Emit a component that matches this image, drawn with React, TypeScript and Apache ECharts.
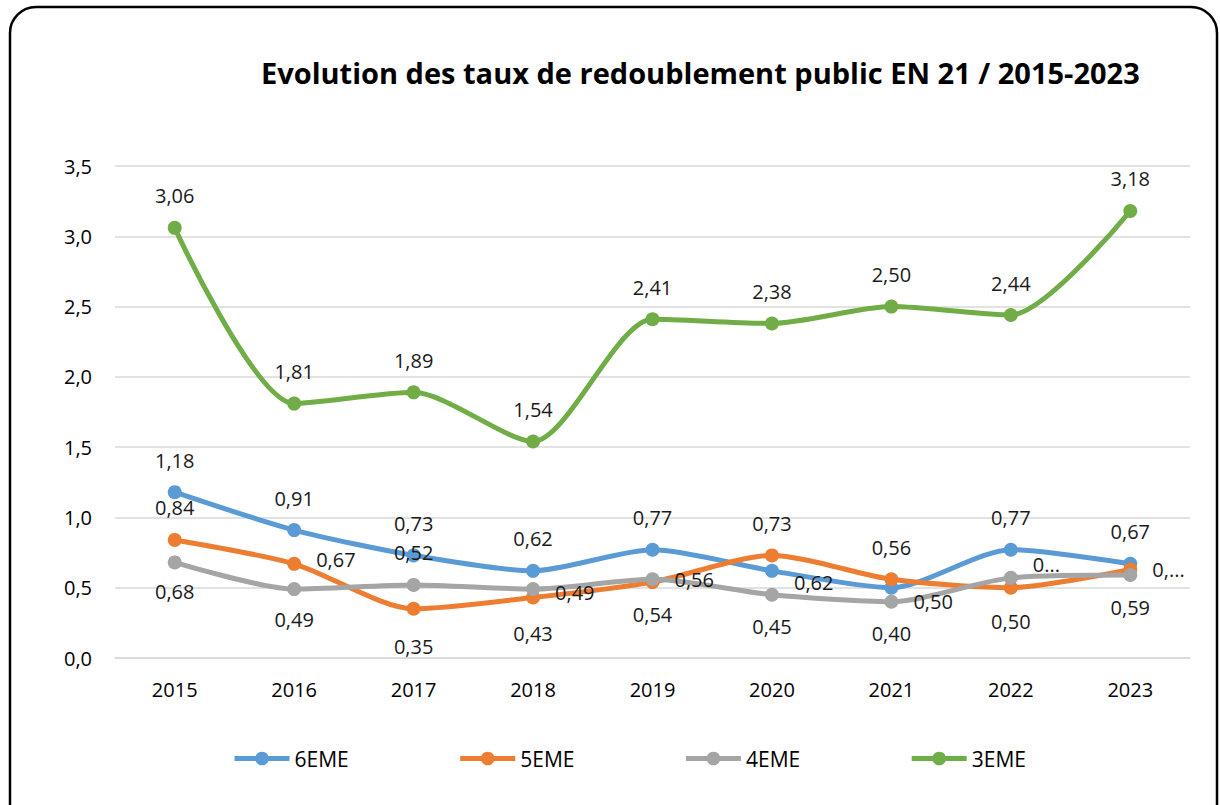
import React, { useEffect, useRef } from "react";
import * as echarts from "echarts";

const years = ["2015", "2016", "2017", "2018", "2019", "2020", "2021", "2022", "2023"];
const sixieme = [1.18, 0.91, 0.73, 0.62, 0.77, 0.62, 0.5, 0.77, 0.67];
const cinquieme = [0.84, 0.67, 0.35, 0.43, 0.54, 0.73, 0.56, 0.5, 0.63];
const quatrieme = [0.68, 0.49, 0.52, 0.49, 0.56, 0.45, 0.4, 0.57, 0.59];
const troisieme = [3.06, 1.81, 1.89, 1.54, 2.41, 2.38, 2.5, 2.44, 3.18];

const pos6 = ["top", "top", "top", "top", "top", "right", "right", "top", "top"];
const pos5 = ["top", "right", "bottom", "bottom", "bottom", "top", "top", "bottom", "right"];
const pos4 = ["bottom", "bottom", "top", "right", "right", "bottom", "bottom", "right", "bottom"];
const pos3 = ["top", "top", "top", "top", "top", "top", "top", "top", "top"];
// truncated labels shown by the original chart
const text5: Record<number, string> = { 8: "0,..." };
const text4: Record<number, string> = { 7: "0..." };

const FONT = "Open Sans";
const fmt = (v: number) => v.toFixed(2).replace(".", ",");

function buildData(vals: number[], pos: string[], texts: Record<number, string>, offsets: Record<number, number[]>) {
  return vals.map((v, i) => ({
    value: v,
    label: {
      position: pos[i],
      formatter: texts[i] !== undefined ? texts[i] : fmt(v),
      offset: offsets[i] || [0, 0],
    },
  }));
}

export default function App() {
  const ref = useRef<HTMLDivElement>(null);
  useEffect(() => {
    document.body.style.margin = "0";
    const chart = echarts.init(ref.current!, null, { renderer: "svg" });
    const mk = (name: string, color: string, data: any[]) => ({
      name,
      type: "line",
      smooth: 0.25,
      data,
      symbol: "circle",
      symbolSize: 14,
      itemStyle: { color },
      lineStyle: { color, width: 5 },
      label: {
        show: true,
        fontFamily: FONT,
        fontSize: 20,
        color: "#1a1a1a",
        distance: 15,
      },
    });
    chart.setOption({
      animation: false,
      backgroundColor: "#ffffff",
      title: {
        text: "Evolution des taux de redoublement public EN 21 / 2015-2023",
        left: 256,
        top: 53,
        textStyle: { fontFamily: FONT, fontWeight: "bold", fontSize: 29, color: "#000000" },
      },
      graphic: [
        {
          type: "rect",
          shape: { x: 10, y: 7, width: 1207, height: 830, r: 26 },
          style: { fill: "none", stroke: "#000000", lineWidth: 2.5 },
          z: 100,
          silent: true,
        },
      ],
      legend: {
        left: 227,
        top: 743,
        itemWidth: 55,
        itemHeight: 17,
        itemGap: 109,
        lineStyle: { width: 5 },
        textStyle: { fontFamily: FONT, fontSize: 21, color: "#000000" },
        data: ["6EME", "5EME", "4EME", "3EME"],
      },
      grid: { left: 115, right: 30, top: 166, bottom: 147, containLabel: false },
      xAxis: {
        type: "category",
        data: years,
        boundaryGap: true,
        axisLine: { show: true, lineStyle: { color: "#d9d9d9", width: 1.5 } },
        axisTick: { show: false },
        axisLabel: { fontFamily: FONT, fontSize: 20, color: "#000000", margin: 21 },
      },
      yAxis: {
        type: "value",
        min: 0,
        max: 3.5,
        interval: 0.5,
        axisLine: { show: false },
        axisTick: { show: false },
        splitLine: { lineStyle: { color: "#d9d9d9", width: 1.5 } },
        axisLabel: {
          fontFamily: FONT,
          fontSize: 20,
          color: "#000000",
          margin: 23,
          formatter: (v: number) => v.toFixed(1).replace(".", ","),
        },
      },
      series: [
        mk("6EME", "#5b9bd5", buildData(sixieme, pos6, {}, { 5: [0, 12], 6: [0, 14] })),
        mk("5EME", "#ed7d31", buildData(cinquieme, pos5, text5, { 1: [0, -4], 2: [0, 6], 3: [0, 4], 7: [0, 2] })),
        mk("4EME", "#a5a5a5", buildData(quatrieme, pos4, text4, { 0: [0, -3], 1: [0, -2], 3: [0, 3], 7: [0, -13] })),
        mk("3EME", "#70ad47", buildData(troisieme, pos3, {}, {})),
      ],
    });
    return () => chart.dispose();
  }, []);
  return <div ref={ref} style={{ width: 1220, height: 805, position: "absolute", left: 0, top: 0 }} />;
}
